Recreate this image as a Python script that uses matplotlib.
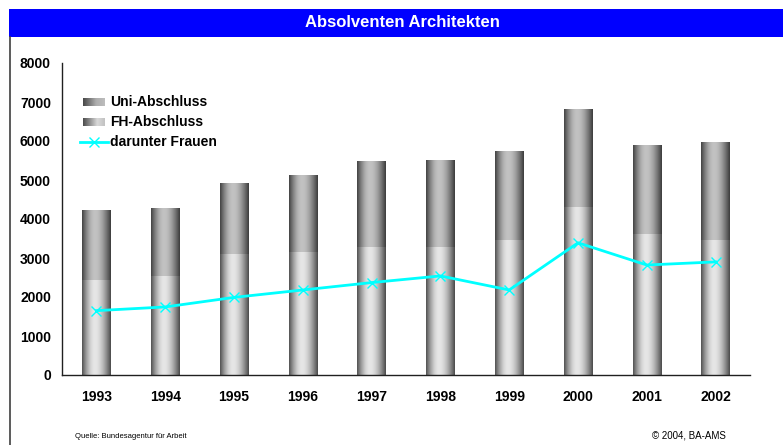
import numpy as np
import matplotlib
matplotlib.use("Agg")
import matplotlib.pyplot as plt
from matplotlib.patches import Rectangle
from matplotlib.lines import Line2D

plt.rcParams['font.family'] = ['Liberation Sans', 'DejaVu Sans']

# ---- data ----
years = ['1993', '1994', '1995', '1996', '1997', '1998', '1999', '2000', '2001', '2002']
fh_abschluss = [2440, 2540, 3100, 3160, 3280, 3280, 3460, 4310, 3620, 3460]
uni_abschluss = [1790, 1740, 1800, 1970, 2180, 2210, 2280, 2490, 2280, 2510]
frauen = [1650, 1745, 1990, 2180, 2370, 2540, 2180, 3390, 2820, 2900]
yticks = [0, 1000, 2000, 3000, 4000, 5000, 6000, 7000, 8000]

W, H = 783, 445
fig = plt.figure(figsize=(W / 100, H / 100), dpi=100)
fig.patch.set_facecolor('white')

# title bar
fig.patches.append(Rectangle((9 / W, 1 - 36.7 / H), 1 - 9 / W, 27.7 / H,
                             transform=fig.transFigure, facecolor='#0000FF',
                             edgecolor='none', zorder=0))
fig.text(402 / W, 1 - 22.5 / H, 'Absolventen Architekten', color='white',
         fontsize=12, fontweight='bold', ha='center', va='center')
# left frame line
fig.add_artist(Line2D([9.5 / W, 9.5 / W], [0, 1 - 36.7 / H], transform=fig.transFigure,
                      color='#404040', lw=1.2))

ax = fig.add_axes([62 / W, 70 / H, 688 / W, 312 / H])
x = np.arange(len(years))
bw = 0.41


def gradient(dark_l, light, dark_r, peak=0.45, n=64):
    t = np.linspace(0, 1, n)
    v = np.where(t < peak,
                 dark_l + (light - dark_l) * np.sin(np.pi / 2 * t / peak),
                 dark_r + (light - dark_r) * np.sin(np.pi / 2 * (1 - t) / (1 - peak)))
    return v.reshape(1, -1)


g_bottom = gradient(0.33, 0.90, 0.30)
g_top = gradient(0.27, 0.76, 0.24)

bars_b = ax.bar(x, fh_abschluss, bw, color='none', edgecolor='none')
bars_t = ax.bar(x, uni_abschluss, bw, bottom=fh_abschluss, color='none', edgecolor='none')
for bars, g in ((bars_b, g_bottom), (bars_t, g_top)):
    for p in bars:
        x0, y0 = p.get_x(), p.get_y()
        ax.imshow(g, extent=[x0, x0 + p.get_width(), y0, y0 + p.get_height()],
                  aspect='auto', cmap='gray', vmin=0, vmax=1, zorder=2,
                  interpolation='bilinear')

ax.plot(x, frauen, color='#00FFFF', lw=2.0, marker='x', markersize=7.5,
        markeredgewidth=1.0, zorder=4)

ax.set_xlim(-0.5, len(years) - 0.5)
ax.set_ylim(0, 8000)
ax.set_yticks(yticks)
ax.set_yticklabels([str(v) for v in yticks])
ax.set_xticks(x)
ax.set_xticklabels(years)
ax.tick_params(axis='y', length=0, pad=8, labelsize=10)
ax.tick_params(axis='x', length=0, pad=11, labelsize=10)
for lab in ax.get_xticklabels() + ax.get_yticklabels():
    lab.set_fontweight('bold')
for s in ('top', 'right'):
    ax.spines[s].set_visible(False)
for s in ('left', 'bottom'):
    ax.spines[s].set_color('#202020')
    ax.spines[s].set_linewidth(1.0)

# legend (manual)
leg_rows = [(0.875, 'Uni-Abschluss'), (0.811, 'FH-Abschluss'), (0.747, 'darunter Frauen')]
sw_x, sw_w, sw_h = 21 / 688, 22 / 688, 8 / 312
t = np.linspace(0, 1, 64)
leg_grads = [np.interp(t, [0, 0.6, 1], [0.28, 0.68, 0.74]).reshape(1, -1),
             np.interp(t, [0, 0.65, 1], [0.30, 0.85, 0.76]).reshape(1, -1)]
for i, (yy, label) in enumerate(leg_rows):
    if i < 2:
        sa = ax.inset_axes([sw_x, yy - sw_h / 2, sw_w, sw_h])
        sa.imshow(leg_grads[i], aspect='auto', cmap='gray', vmin=0, vmax=1)
        sa.set_axis_off()
    else:
        ax.add_line(Line2D([18 / 688, 46 / 688], [yy, yy], transform=ax.transAxes,
                           color='#00FFFF', lw=2.0))
        ax.add_line(Line2D([32 / 688], [yy], transform=ax.transAxes, color='#00FFFF',
                           marker='x', markersize=7.5, markeredgewidth=1.0))
    ax.text(48 / 688, yy, label, transform=ax.transAxes, fontsize=10,
            fontweight='bold', va='center', ha='left')

fig.text(75 / W, 1 - 436 / H, 'Quelle: Bundesagentur für Arbeit', fontsize=5.5,
         ha='left', va='center')
fig.text(726 / W, 1 - 436 / H, '© 2004, BA-AMS', fontsize=7, ha='right', va='center')

fig.savefig('out.png', dpi=100)
